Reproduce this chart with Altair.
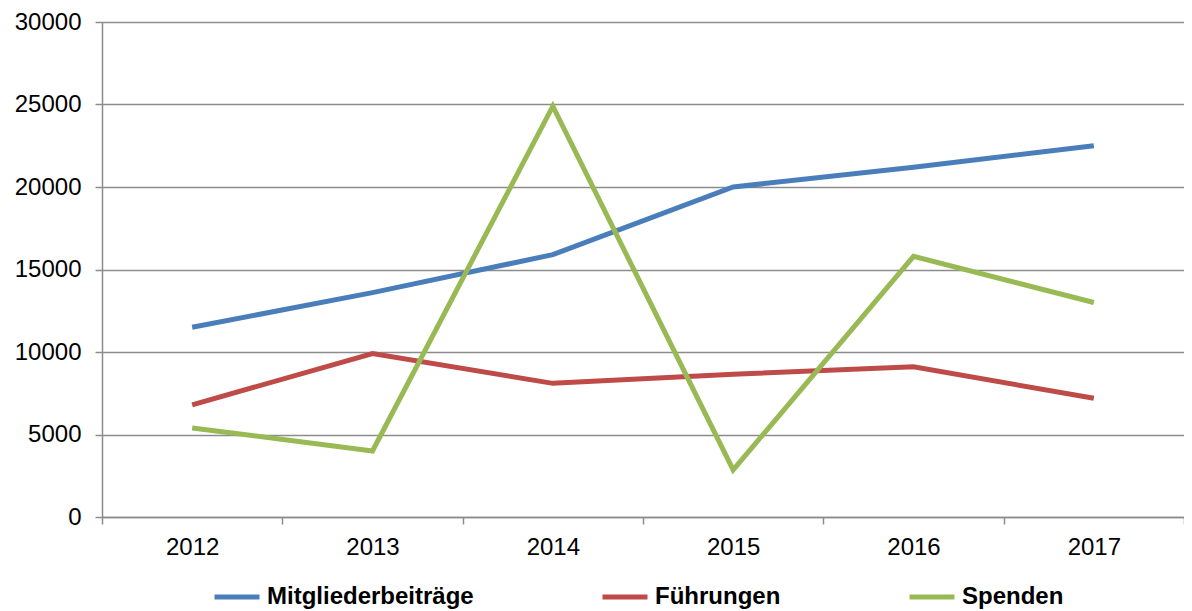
import altair as alt
import pandas as pd

years = ["2012", "2013", "2014", "2015", "2016", "2017"]
series_names = ["Mitgliederbeiträge", "Führungen", "Spenden"]
mitglieder = [11500, 13600, 15900, 20000, 21200, 22500]
fuehrungen = [6800, 9900, 8100, 8650, 9100, 7200]
spenden = [5400, 4000, 24900, 2850, 15800, 13000]
colors = ["#4A7EBB", "#BE4B48", "#98B954"]

rows = []
for name, vals in zip(series_names, [mitglieder, fuehrungen, spenden]):
    for y, v in zip(years, vals):
        rows.append({"Jahr": y, "Wert": v, "Serie": name})
df = pd.DataFrame(rows)

FONT = "Liberation Sans"
GRID = "#8C8C8C"

chart = alt.Chart(df).mark_line(strokeWidth=5, strokeJoin="miter", strokeCap="butt").encode(
    x=alt.X("Jahr:N", title=None, sort=years, bandPosition=0.5,
            scale=alt.Scale(type="band", paddingInner=0, paddingOuter=0),
            axis=alt.Axis(tickBand="extent", grid=False, labelAngle=0,
                          domainColor=GRID, domainWidth=1.5, tickColor=GRID,
                          tickWidth=1.5, tickSize=7, labelPadding=11,
                          labelFontSize=24, labelFont=FONT, labelColor="#000000")),
    y=alt.Y("Wert:Q", title=None,
            scale=alt.Scale(domain=[0, 30000], nice=False),
            axis=alt.Axis(values=[0, 5000, 10000, 15000, 20000, 25000, 30000],
                          format="d", grid=True, gridColor=GRID, gridWidth=1.5,
                          domainColor=GRID, domainWidth=1.5, tickColor=GRID,
                          tickWidth=1.5, tickSize=7, labelPadding=14,
                          labelFontSize=24, labelFont=FONT, labelColor="#000000")),
    color=alt.Color("Serie:N", sort=series_names,
                    scale=alt.Scale(domain=series_names, range=colors),
                    legend=alt.Legend(title=None, orient="none", direction="horizontal",
                                      legendX=110, legendY=550,
                                      symbolType="stroke", symbolSize=2025,
                                      symbolStrokeWidth=5, labelOffset=5,
                                      columnPadding=118, labelFontSize=24,
                                      labelFontWeight="bold", labelFont=FONT,
                                      labelColor="#000000", labelLimit=400,
                                      padding=0)),
    order=alt.Order("Jahr:N"),
).properties(
    width=1082,
    height=495,
    autosize=alt.AutoSizeParams(type="none"),
    padding={"left": 94, "top": 14, "right": 0, "bottom": 92},
).configure_view(stroke=None)

chart.save("out.html", embed_options={"renderer": "svg", "actions": False})
